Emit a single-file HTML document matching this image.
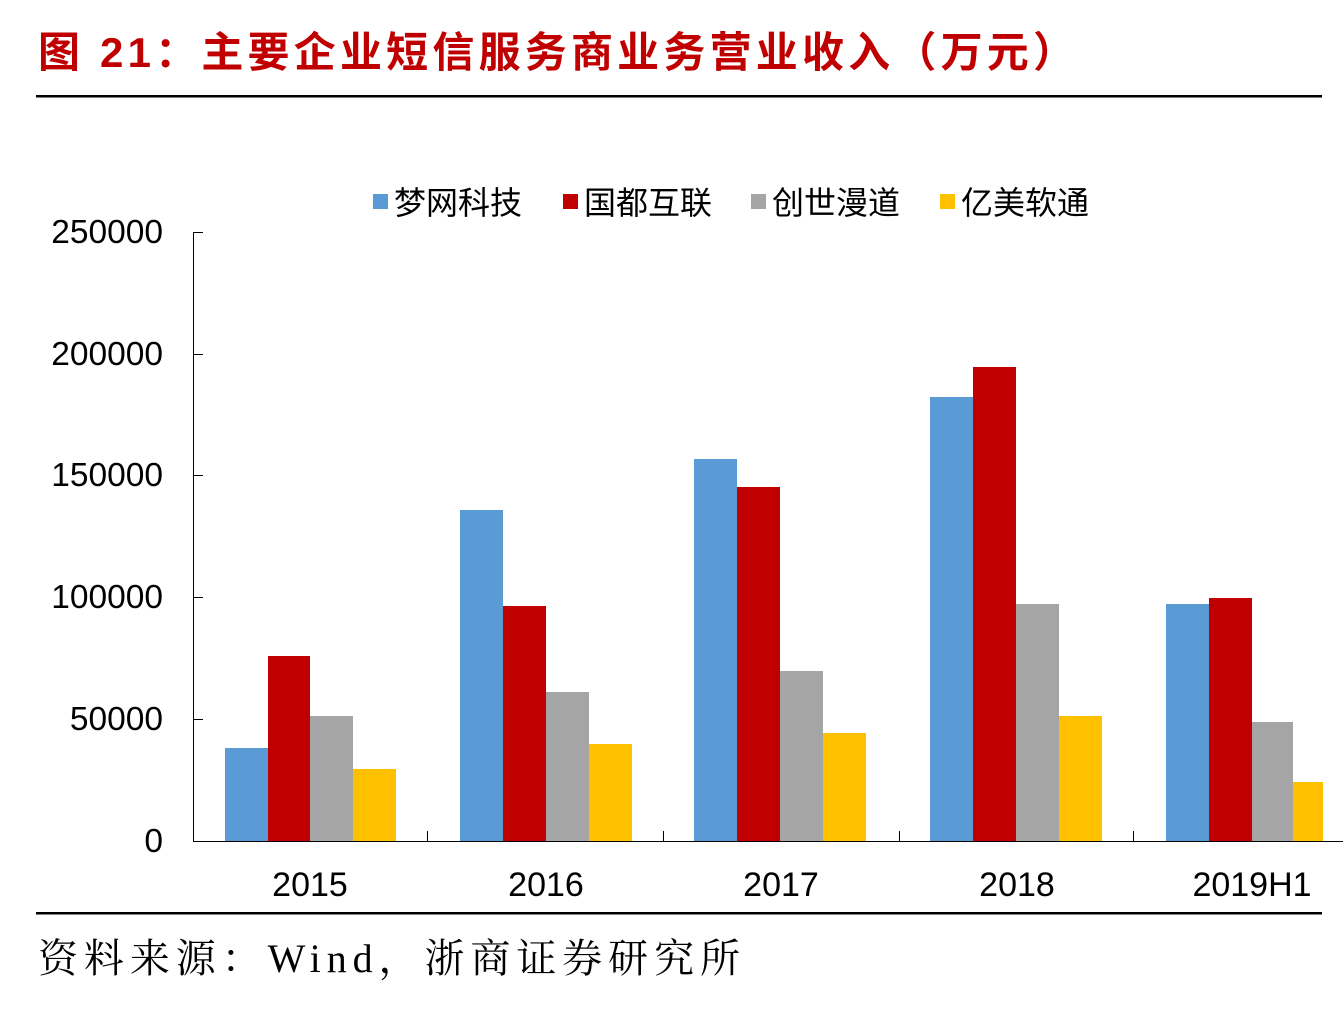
<!DOCTYPE html>
<html><head><meta charset="utf-8"><style>
body{margin:0;background:#fff;width:1343px;height:1014px;overflow:hidden}
svg{display:block}
</style></head><body>
<svg width="1343" height="1014" xmlns="http://www.w3.org/2000/svg" font-family="Liberation Sans, Noto Sans CJK SC, sans-serif">
<text x="38" y="67" font-size="42" font-weight="bold" fill="#C00000" textLength="1037" lengthAdjust="spacing">图  21：主要企业短信服务商业务营业收入（万元）</text>
<rect x="36" y="95" width="1286" height="2.5" fill="#000"/>
<rect x="36" y="912" width="1286" height="2.5" fill="#000"/>
<text x="38" y="972" font-size="40" font-family="Liberation Serif, Noto Serif CJK SC, serif" fill="#000" textLength="702" lengthAdjust="spacing">资料来源：Wind，浙商证券研究所</text>
<!-- legend -->
<g font-size="32" fill="#000">
<rect x="373" y="194" width="15" height="15" fill="#5B9BD5"/><text x="394" y="214">梦网科技</text>
<rect x="563" y="194" width="15" height="15" fill="#C00000"/><text x="584" y="214">国都互联</text>
<rect x="751" y="194" width="15" height="15" fill="#A5A5A5"/><text x="772" y="214">创世漫道</text>
<rect x="940" y="194" width="15" height="15" fill="#FFC000"/><text x="961" y="214">亿美软通</text>
</g>
<g stroke="#000" stroke-width="1">
<line x1="193.5" y1="232" x2="193.5" y2="841"/>
<line x1="193" y1="232.5" x2="203" y2="232.5"/>
<line x1="193" y1="354.5" x2="203" y2="354.5"/>
<line x1="193" y1="475.5" x2="203" y2="475.5"/>
<line x1="193" y1="597.5" x2="203" y2="597.5"/>
<line x1="193" y1="719.5" x2="203" y2="719.5"/>
<line x1="193" y1="841.5" x2="1343" y2="841.5"/>
<line x1="427.5" y1="831" x2="427.5" y2="841"/>
<line x1="663.5" y1="831" x2="663.5" y2="841"/>
<line x1="899.5" y1="831" x2="899.5" y2="841"/>
<line x1="1133.5" y1="831" x2="1133.5" y2="841"/>
</g>
<g font-size="33.5" text-anchor="end" fill="#000">
<text x="163" y="243">250000</text>
<text x="163" y="365">200000</text>
<text x="163" y="486">150000</text>
<text x="163" y="608">100000</text>
<text x="163" y="730">50000</text>
<text x="163" y="852">0</text>
</g>
<g font-size="34" text-anchor="middle" fill="#000">
<text x="310" y="896">2015</text>
<text x="546" y="896">2016</text>
<text x="781" y="896">2017</text>
<text x="1017" y="896">2018</text>
<text x="1252" y="896">2019H1</text>
</g>
<g>
<rect x="225" y="748" width="43" height="93" fill="#5B9BD5"/>
<rect x="268" y="656" width="42" height="185" fill="#C00000"/>
<rect x="310" y="716" width="43" height="125" fill="#A5A5A5"/>
<rect x="353" y="769" width="43" height="72" fill="#FFC000"/>

<rect x="460" y="510" width="43" height="331" fill="#5B9BD5"/>
<rect x="503" y="606" width="43" height="235" fill="#C00000"/>
<rect x="546" y="692" width="43" height="149" fill="#A5A5A5"/>
<rect x="589" y="744" width="43" height="97" fill="#FFC000"/>

<rect x="694" y="459" width="43" height="382" fill="#5B9BD5"/>
<rect x="737" y="487" width="43" height="354" fill="#C00000"/>
<rect x="780" y="671" width="43" height="170" fill="#A5A5A5"/>
<rect x="823" y="733" width="43" height="108" fill="#FFC000"/>

<rect x="930" y="397" width="43" height="444" fill="#5B9BD5"/>
<rect x="973" y="367" width="43" height="474" fill="#C00000"/>
<rect x="1016" y="604" width="43" height="237" fill="#A5A5A5"/>
<rect x="1059" y="716" width="43" height="125" fill="#FFC000"/>

<rect x="1166" y="604" width="43" height="237" fill="#5B9BD5"/>
<rect x="1209" y="598" width="43" height="243" fill="#C00000"/>
<rect x="1252" y="722" width="41" height="119" fill="#A5A5A5"/>
<rect x="1293" y="782" width="30" height="59" fill="#FFC000"/>
</g>
</svg>
</body></html>
